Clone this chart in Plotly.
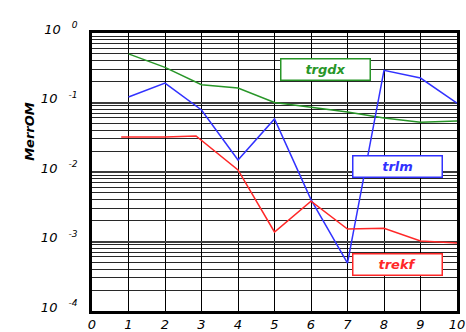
import plotly.graph_objects as go

# data
x_vals = [1, 2, 3, 4, 5, 6, 7, 8, 9, 10]
trgdx = [0.50, 0.32, 0.18, 0.162, 0.10, 0.086, 0.073, 0.060, 0.052, 0.054]
trlm = [0.12, 0.19, 0.078, 0.0149, 0.058, 0.0040, 0.00049, 0.29, 0.225, 0.098]
trekf_x = [0.8, 2, 2.85, 4, 5, 6, 7, 8, 9, 10]
trekf = [0.032, 0.032, 0.033, 0.0107, 0.00137, 0.0038, 0.00151, 0.00155, 0.00102, 0.00095]

y_tickvals = [1e-4, 1e-3, 1e-2, 1e-1, 1]
y_ticktext = ['10  <sup> -4</sup>', '10  <sup> -3</sup>', '10  <sup> -2</sup>',
              '10  <sup> -1</sup>', '10  <sup> 0</sup>']
x_tickvals = list(range(0, 11))

GREEN = 'rgb(40,150,40)'
BLUE = 'rgb(50,50,255)'
RED = 'rgb(255,40,40)'
FONT = 'DejaVu Sans'

fig = go.Figure()

fig.add_trace(go.Scatter(x=x_vals, y=trgdx, mode='lines', name='trgdx',
                         line=dict(color=GREEN, width=1.5)))
fig.add_trace(go.Scatter(x=x_vals, y=trlm, mode='lines', name='trlm',
                         line=dict(color=BLUE, width=1.5)))
fig.add_trace(go.Scatter(x=trekf_x, y=trekf, mode='lines', name='trekf',
                         line=dict(color=RED, width=1.5)))

# label boxes
boxes = [('trgdx', 6.4, -0.532, GREEN),
         ('trlm', 8.37, -1.921, BLUE),
         ('trekf', 8.37, -3.324, RED)]
for text, bx, by, col in boxes:
    fig.add_annotation(x=bx, y=by, xref='x', yref='y', text='<b><i>' + text + '</i></b>',
                       showarrow=False, font=dict(family=FONT, size=13, color=col),
                       bgcolor='white', bordercolor=col, borderwidth=1.5,
                       width=86, height=18, align='center')

fig.add_annotation(x=-0.197, y=0.76, xref='paper', yref='paper',
                   text='<b><i>MerrOM</i></b>', textangle=-90, showarrow=False,
                   font=dict(family=FONT, size=13, color='black'))

fig.update_xaxes(range=[0, 10], tickvals=x_tickvals, showgrid=True,
                 gridcolor='black', gridwidth=1, zeroline=False, automargin=False,
                 showline=True, linecolor='black', linewidth=2.5, mirror=True,
                 ticks='', tickfont=dict(family=FONT, size=13, color='black', style='italic'))
fig.update_yaxes(type='log', range=[-4, 0], tickvals=y_tickvals, ticktext=y_ticktext,
                 showgrid=True, gridcolor='rgb(60,60,60)', gridwidth=2,
                 minor=dict(dtick='D1', showgrid=True, gridcolor='rgb(40,40,40)',
                            gridwidth=1, ticks=''),
                 showline=True, linecolor='black', linewidth=2.5, mirror=True,
                 ticks='', ticklabelstandoff=9, ticklabelshift=-4, automargin=False,
                 tickfont=dict(family=FONT, size=13, color='black', style='italic'))

fig.update_layout(width=466, height=332, showlegend=False,
                  margin=dict(l=92, r=9, t=33, b=21),
                  plot_bgcolor='white', paper_bgcolor='white')

fig.write_html("out.html", config={'displayModeBar': False},
               post_script="document.body.style.margin='0';")
